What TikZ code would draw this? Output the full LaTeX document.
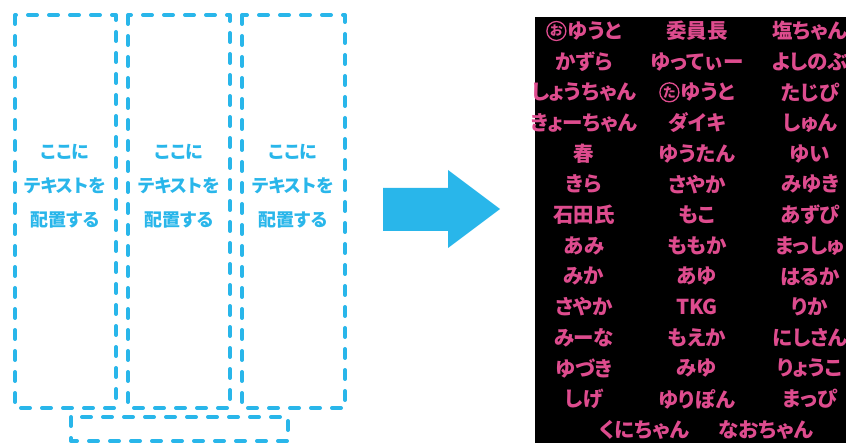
\documentclass[tikz,border=0pt]{standalone}
\usepackage{fontspec}
\newfontfamily\jp{Noto Sans CJK JP}[RawFeature=+palt]
\definecolor{sky}{RGB}{41,182,234}
\definecolor{rose}{RGB}{222,76,142}
\tikzset{
  column/.style={draw=sky, line width=4pt, dash pattern=on 9pt off 12pt,
    line cap=round, line join=round},
  hint/.style={text=sky, align=center, font=\jp\bfseries\fontsize{18}{34}\selectfont},
  member/.style={text=rose, inner sep=0pt, font=\jp\bfseries\fontsize{20.5}{20}\selectfont},
}
\newcommand\maru[1]{\tikz[baseline={([yshift=-7.5pt]m.center)}]\node[circle, draw=rose,
  line width=1.3pt, minimum size=19pt, inner sep=0pt,
  font=\jp\bfseries\fontsize{13}{13}\selectfont] (m) {#1};\kern1pt}

\begin{document}
\begin{tikzpicture}[x=1pt, y=-1pt]
\useasboundingbox (0,0) rectangle (846,443);

% frames
\draw[column] (15,15) rectangle (116,408);
\draw[column] (128,15) rectangle (230,408);
\draw[column] (242,15) rectangle (345,408);
\draw[column] (71,417) rectangle (288,441);
\node[hint] (t1) at (65,186) {ここに\\テキストを\\配置する};
\node[hint] (t2) at (179,186) {ここに\\テキストを\\配置する};
\node[hint] (t3) at (293,186) {ここに\\テキストを\\配置する};

% arrow
\fill[sky] (383,188) -- (448,188) -- (448,170) -- (500,209)
  -- (448,248) -- (448,231) -- (383,231) -- cycle;

% names
\fill[black] (535,17) rectangle (846,443);
\foreach \r/\a/\b/\c in {
  1/{\maru{お}ゆうと}/委員長/塩ちゃん,
  2/かずら/ゆってぃー/よしのぶ,
  3/しょうちゃん/{\maru{た}ゆうと}/たじぴ,
  4/きょーちゃん/ダイキ/しゅん,
  5/春/ゆうたん/ゆい,
  6/きら/さやか/みゆき,
  7/石田氏/もこ/あずぴ,
  8/あみ/ももか/まっしゅ,
  9/みか/あゆ/はるか,
  10/さやか/TKG/りか,
  11/みーな/もえか/にしさん,
  12/ゆづき/みゆ/りょうこ,
  13/しげ/ゆりぽん/まっぴ}{
  \node[member] (a\r) at (584,{31+(\r-1)*30.67}) {\a};
  \node[member] (b\r) at (697,{31+(\r-1)*30.67}) {\b};
  \node[member] (c\r) at (810,{31+(\r-1)*30.67}) {\c};
}
\node[member] (a14) at (644,430) {くにちゃん};
\node[member] (b14) at (766,430) {なおちゃん};
\end{tikzpicture}
\end{document}
